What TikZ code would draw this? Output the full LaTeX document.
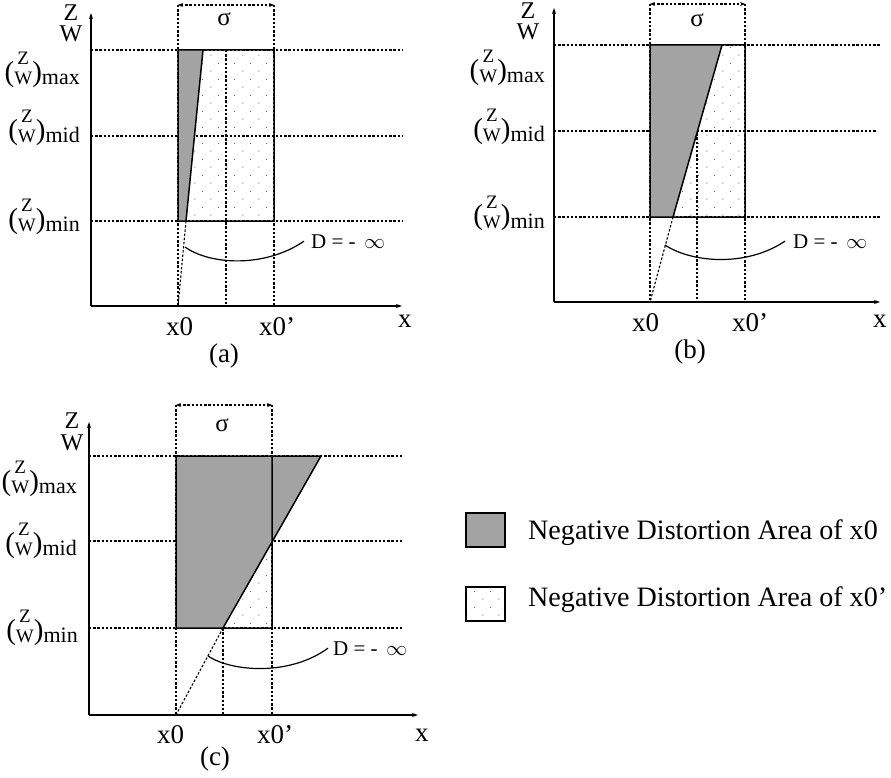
\documentclass[tikz,border=0pt]{standalone}
\usepackage{fontspec}
\setmainfont{Liberation Serif}
\usetikzlibrary{arrows.meta,patterns.meta}

\tikzdeclarepattern{
  name=sparsedots,
  type=uncolored,
  bottom left={(0pt,0pt)},
  top right={(16pt,16pt)},
  tile size={(16pt,16pt)},
  code={\fill (3pt,3pt) circle (0.6pt); \fill (11pt,11pt) circle (0.6pt);}
}

% (Z/W) with a subscript
\newcommand{\zwpar}[1]{\raisebox{3pt}{\fontsize{29}{29}\selectfont(}{\fontsize{19}{20}\selectfont\begin{tabular}[b]{@{}c@{}}Z\\W\end{tabular}}\raisebox{3pt}{\fontsize{29}{29}\selectfont)}{\fontsize{22}{22}\selectfont #1}}
\newcommand{\zwaxis}{{\fontsize{24}{20}\selectfont\begin{tabular}[b]{@{}c@{}}Z\\W\end{tabular}}}

\begin{document}
\begin{tikzpicture}[x=1pt, y=-1pt,
  axis/.style={line width=1.4pt, -{Stealth[length=6pt,width=4pt]}},
  guide/.style={line width=1.1pt, dash pattern=on 2.4pt off 1.8pt},
  sigarrow/.style={guide, {Stealth[length=5pt,width=4pt]}-{Stealth[length=5pt,width=4pt]}},
  edge/.style={line width=1.5pt},
  curve/.style={line width=1.2pt},
  negzero/.style={fill=black!36},
  negprime/.style={pattern=sparsedots, pattern color=black!65},
  lab/.style={inner sep=0pt, font=\fontsize{27}{27}\selectfont},
  ratio/.style={inner sep=0pt, anchor=base east},
  dlab/.style={inner sep=0pt, anchor=base west, font=\fontsize{21}{21}\selectfont},
  siglab/.style={inner sep=0pt, font=\fontsize{25}{25}\selectfont},
  keytext/.style={inner sep=0pt, anchor=base west, font=\fontsize{28.1}{28.1}\selectfont}]
\useasboundingbox (0,0) rectangle (891,778);

% ---------- panel (a)
\draw[guide] (91,50) -- (403,50) (91,136) -- (403,136) (91,221) -- (403,221);
\draw[guide] (178,5) -- (178,306) (274,5) -- (274,306) (226,50) -- (226,306);
\draw[guide] (186,221) -- (178,306);
\draw[sigarrow] (178,5) -- (274,5);
\fill[negprime] (178,50) rectangle (274,221);
\fill[negzero] (178,50) -- (203,50) -- (186,221) -- (178,221) -- cycle;
\draw[edge] (178,50) rectangle (274,221) (203,50) -- (186,221);
\draw[axis] (91,306) -- (91,13);
\draw[axis] (91,306) -- (402,306);
\node[lab, anchor=base] (a-zw) at (71,42) {\zwaxis};
\node[ratio] (a-max) at (80,85) {\zwpar{max}};
\node[ratio] (a-mid) at (80,143) {\zwpar{mid}};
\node[ratio] (a-min) at (80,231) {\zwpar{min}};
\node[siglab] (a-sig) at (224,19) {σ};
\node[lab, anchor=base west] (a-x0) at (166,335) {x0};
\node[lab, anchor=base west] (a-x1) at (259,335) {x0’};
\node[lab, anchor=base west] (a-x) at (398,327) {x};
\node[lab, anchor=base] (a-cap) at (224,362) {(a)};
\node[dlab] (a-d) at (311,248) {D = - \,$\infty$};
\draw[curve] (185,247) .. controls (210,265) and (265,268) .. ([xshift=-7pt]a-d.west);

% ---------- panel (b)
\draw[guide] (554,45) -- (880,45) (554,131) -- (876,131) (554,217) -- (880,217);
\draw[guide] (650,4) -- (650,302) (745,4) -- (745,302) (697,45) -- (697,302);
\draw[guide] (673,217) -- (650,302);
\draw[sigarrow] (650,4) -- (745,4);
\fill[negprime] (650,45) rectangle (745,217);
\fill[negzero] (650,45) -- (722,45) -- (673,217) -- (650,217) -- cycle;
\draw[edge] (650,45) rectangle (745,217) (722,45) -- (673,217);
\draw[axis] (554,302) -- (554,8);
\draw[axis] (554,302) -- (880,302);
\node[lab, anchor=base] (b-zw) at (528,40) {\zwaxis};
\node[ratio] (b-max) at (545,83) {\zwpar{max}};
\node[ratio] (b-mid) at (545,142) {\zwpar{mid}};
\node[ratio] (b-min) at (545,228) {\zwpar{min}};
\node[siglab] (b-sig) at (697,20) {σ};
\node[lab, anchor=base west] (b-x0) at (632,331) {x0};
\node[lab, anchor=base west] (b-x1) at (732,331) {x0’};
\node[lab, anchor=base west] (b-x) at (873,327) {x};
\node[lab, anchor=base] (b-cap) at (690,358) {(b)};
\node[dlab] (b-d) at (793,248) {D = - \,$\infty$};
\draw[curve] (665,245) .. controls (690,262) and (745,268) .. ([xshift=-8pt]b-d.west);

% ---------- panel (c)
\draw[guide] (89,456) -- (402,456) (89,541) -- (402,541) (89,628) -- (402,628);
\draw[guide] (176,405) -- (176,715) (272,405) -- (272,715) (223,456) -- (223,715);
\draw[guide] (223,628) -- (176,715);
\draw[sigarrow] (176,405) -- (272,405);
\fill[negprime] (176,456) rectangle (272,628);
\fill[negzero] (176,456) -- (321,456) -- (223,628) -- (176,628) -- cycle;
\draw[edge] (176,456) rectangle (272,628) (272,456) -- (321,456) -- (223,628);
\draw[axis] (89,715) -- (89,422);
\draw[axis] (89,715) -- (418,715);
\node[lab, anchor=base] (c-zw) at (72,450) {\zwaxis};
\node[ratio] (c-max) at (77,493) {\zwpar{max}};
\node[ratio] (c-mid) at (77,555) {\zwpar{mid}};
\node[ratio] (c-min) at (78,642) {\zwpar{min}};
\node[siglab] (c-sig) at (222,425) {σ};
\node[lab, anchor=base west] (c-x0) at (157,743) {x0};
\node[lab, anchor=base west] (c-x1) at (257,743) {x0’};
\node[lab, anchor=base west] (c-x) at (415,741) {x};
\node[lab, anchor=base] (c-cap) at (215,765) {(c)};
\node[dlab] (c-d) at (333,655) {D = - \,$\infty$};
\draw[curve] (208,656) .. controls (232,672) and (290,676) .. ([xshift=-5pt]c-d.west);

% ---------- legend
\node[draw, edge, negzero, minimum width=39pt, minimum height=34pt, inner sep=0pt] (key0) at (485.5,530) {};
\node[draw, edge, negprime, minimum width=39pt, minimum height=34pt, inner sep=0pt] (key1) at (485.5,604) {};
\node[keytext] (key0-t) at (528,539) {Negative Distortion Area of x0};
\node[keytext] (key1-t) at (528,606) {Negative Distortion Area of x0’};
\end{tikzpicture}
\end{document}
